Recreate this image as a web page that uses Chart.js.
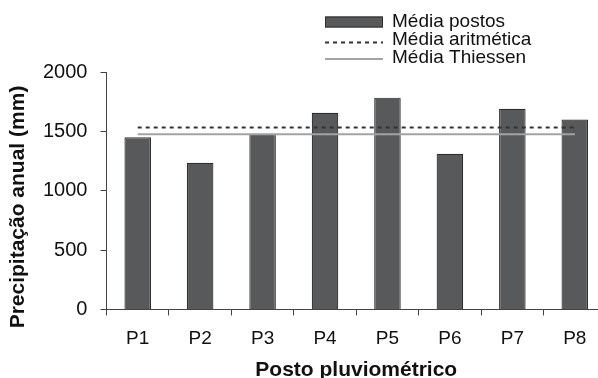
<!DOCTYPE html>
<html>
<head>
<meta charset="utf-8">
<script src="https://cdn.jsdelivr.net/npm/chart.js@4/dist/chart.umd.min.js"></script>
<style>
  html, body { margin: 0; padding: 0; background: #fff; overflow: hidden; }
  #wrap { position: relative; width: 614px; height: 378px; }
</style>
</head>
<body>
<div id="wrap"><canvas id="c"></canvas></div>
<script>
const categories = ['P1', 'P2', 'P3', 'P4', 'P5', 'P6', 'P7', 'P8'];
const mediaPostos = [1451, 1235, 1480, 1657, 1784, 1311, 1691, 1600];
const mediaAritmetica = [1533, 1533, 1533, 1533, 1533, 1533, 1533, 1533];
const mediaThiessen = [1476, 1476, 1476, 1476, 1476, 1476, 1476, 1476];
const seriesLabels = ['Média postos', 'Média aritmética', 'Média Thiessen'];
const xTitle = 'Posto pluviométrico';
const yTitle = 'Precipitação anual (mm)';
const yTicks = [0, 500, 1000, 1500, 2000];

const FONT = "'Liberation Sans', Arial, sans-serif";

const legendPlugin = {
  id: 'customLegend',
  afterDraw(chart) {
    const ctx = chart.ctx;
    const ds = chart.data.datasets;
    ctx.save();
    ctx.font = '19px ' + FONT;
    ctx.textBaseline = 'alphabetic';
    const x0 = 325, x1 = 383, tx = 392;
    const baselines = [27, 45, 63];
    ctx.fillStyle = ds[0].backgroundColor;
    ctx.fillRect(x0, 16.5, x1 - x0, 11);
    ctx.strokeStyle = ds[0].borderColor;
    ctx.lineWidth = 1;
    ctx.strokeRect(x0 + 0.5, 17, x1 - x0 - 1, 10);
    ctx.beginPath();
    ctx.setLineDash(ds[1].borderDash);
    ctx.strokeStyle = ds[1].borderColor;
    ctx.lineWidth = ds[1].borderWidth;
    ctx.moveTo(x0, 42.5);
    ctx.lineTo(x1, 42.5);
    ctx.stroke();
    ctx.setLineDash([]);
    ctx.beginPath();
    ctx.strokeStyle = ds[2].borderColor;
    ctx.lineWidth = ds[2].borderWidth;
    ctx.moveTo(x0, 59);
    ctx.lineTo(x1, 59);
    ctx.stroke();
    ctx.fillStyle = '#111';
    ds.forEach((d, i) => {
      ctx.fillText(d.label, tx, baselines[i]);
    });
    ctx.restore();
  }
};

const yTitlePlugin = {
  id: 'yTitle',
  afterDraw(chart) {
    const ctx = chart.ctx;
    ctx.save();
    ctx.font = 'bold 21px ' + FONT;
    ctx.fillStyle = '#111';
    ctx.textAlign = 'center';
    ctx.textBaseline = 'middle';
    ctx.translate(18, 207);
    ctx.rotate(-Math.PI / 2);
    ctx.fillText(yTitle, 0, 0);
    ctx.restore();
  }
};

new Chart(document.getElementById('c'), {
  type: 'bar',
  data: {
    labels: categories,
    datasets: [
      {
        type: 'bar',
        label: seriesLabels[0],
        data: mediaPostos,
        backgroundColor: '#58595b',
        borderColor: '#2e2e2e',
        borderWidth: 1.2,
        barPercentage: 0.85,
        categoryPercentage: 0.5,
        order: 2
      },
      {
        type: 'line',
        label: seriesLabels[1],
        data: mediaAritmetica,
        borderColor: '#333',
        borderWidth: 2,
        borderDash: [4, 4],
        pointRadius: 0,
        fill: false,
        order: 1
      },
      {
        type: 'line',
        label: seriesLabels[2],
        data: mediaThiessen,
        borderColor: '#a3a3a3',
        borderWidth: 2,
        pointRadius: 0,
        fill: false,
        order: 1
      }
    ]
  },
  options: {
    responsive: true,
    maintainAspectRatio: false,
    animation: false,
    layout: { padding: { left: 30, top: 72, right: 8, bottom: 0 } },
    plugins: {
      legend: { display: false },
      tooltip: { enabled: false }
    },
    scales: {
      x: {
        offset: true,
        grid: { display: true, drawOnChartArea: false, tickLength: 6, color: '#444', offset: true },
        border: { display: true, color: '#444', width: 1 },
        ticks: { color: '#111', font: { family: FONT, size: 19 }, padding: 12 },
        title: { display: true, text: xTitle, color: '#111', font: { family: FONT, size: 21, weight: 'bold' }, padding: { top: -4.5, bottom: -5 } }
      },
      y: {
        min: 0,
        max: 2000,
        afterBuildTicks(scale) { scale.ticks = yTicks.map(v => ({ value: v })); },
        grid: { display: true, drawOnChartArea: false, tickLength: 6, color: '#444' },
        border: { display: true, color: '#444', width: 1 },
        ticks: { color: '#111', font: { family: FONT, size: 20 }, padding: 13, callback: (v) => String(v) }
      }
    }
  },
  plugins: [legendPlugin, yTitlePlugin]
});
</script>
</body>
</html>
